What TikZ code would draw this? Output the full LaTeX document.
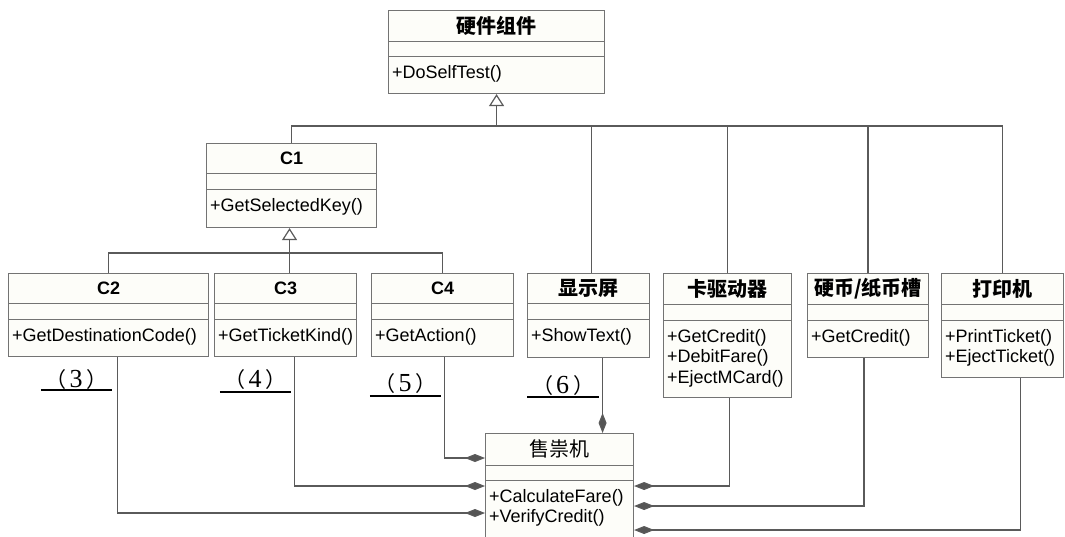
\documentclass[tikz,border=0pt]{standalone}
\usepackage{fontspec}
\setmainfont{Liberation Serif}
\setsansfont{Liberation Sans}
\newfontfamily\cjk{Noto Sans CJK SC}
\usetikzlibrary{arrows.meta,calc}
\definecolor{linec}{RGB}{90,90,90}
\definecolor{boxc}{RGB}{115,115,115}
\definecolor{boxfill}{RGB}{253,253,249}
\definecolor{diamc}{RGB}{85,85,85}
\tikzset{
  cbox/.style={draw=boxc, fill=boxfill, line width=1.1pt, inner sep=0pt, anchor=north west},
  sepline/.style={draw=boxc, line width=1pt},
  ttl/.style={font=\fontsize{18}{20}\selectfont\sffamily\bfseries, inner sep=0pt},
  cjkttl/.style={font=\fontsize{20}{22}\selectfont\cjk\bfseries, inner sep=0pt},
  cjkreg/.style={font=\fontsize{20}{22}\selectfont\cjk, inner sep=0pt},
  meth/.style={font=\fontsize{18}{20.5}\selectfont\sffamily, align=left, anchor=north west, inner sep=0pt},
  conn/.style={draw=linec, line width=1.2pt},
  gen/.style={conn, -{Triangle[open, length=12pt, width=15pt, fill=white]}},
  comp/.style={conn, -{Diamond[length=20pt, width=8pt, fill=diamc]}},
  blank/.style={font=\fontsize{26}{28}\selectfont, inner sep=0pt, anchor=base, minimum width=71pt},
  uline/.style={draw=black, line width=1.8pt},
}
% name, x, y, w, h, sep1, sep2, title style, title
\newcommand\umlcls[9]{%
  \node[cbox, minimum width=#4pt, minimum height=#5pt] (#1) at (#2,#3) {};
  \draw[sepline] ([yshift=-#6pt]#1.north west) -- ([yshift=-#6pt]#1.north east);
  \draw[sepline] ([yshift=-#7pt]#1.north west) -- ([yshift=-#7pt]#1.north east);
  \node[#8] (#1-t) at ([yshift=-0.5*#6pt]#1.north) {#9};
}
% name, offset of method top from box top, methods
\newcommand\umlmeth[3]{%
  \node[meth] (#1-m) at ([xshift=4pt,yshift=-#2pt]#1.north west) {#3};
}
% name, x, base y, number, underline distance below base
\newcommand\blanklbl[5]{%
  \node[blank] (#1) at (#2,#3) {{\cjk\fontsize{21}{23}\selectfont （}\hspace{3pt}#4\hspace{4pt}{\cjk\fontsize{21}{23}\selectfont ）}};
  \draw[uline] ([yshift=-#5pt]#1.base west) -- ([yshift=-#5pt]#1.base east);
}
\begin{document}
\begin{tikzpicture}[x=1pt,y=-1pt]
\useasboundingbox (0,0) rectangle (1065,536);
\fill[white] (0,0) rectangle (1065,536);

\umlcls{hw}{388}{10}{216}{83}{31}{46}{cjkttl}{硬件组件}
\umlmeth{hw}{55}{+DoSelfTest()}
\umlcls{c1}{206}{143}{170}{84}{30}{46}{ttl}{C1}
\umlmeth{c1}{55}{+GetSelectedKey()}
\umlcls{c2}{8}{273}{200}{83}{30}{46}{ttl}{C2}
\umlmeth{c2}{55}{+GetDestinationCode()}
\umlcls{c3}{214}{273}{142}{83}{30}{46}{ttl}{C3}
\umlmeth{c3}{55}{+GetTicketKind()}
\umlcls{c4}{371}{273}{142}{83}{30}{46}{ttl}{C4}
\umlmeth{c4}{55}{+GetAction()}
\umlcls{disp}{527}{273}{122}{84}{30}{46}{cjkttl}{显示屏}
\umlmeth{disp}{55}{+ShowText()}
\umlcls{card}{663}{273}{128}{124}{31}{47}{cjkttl}{卡驱动器}
\umlmeth{card}{56}{+GetCredit()\\+DebitFare()\\+EjectMCard()}
\umlcls{coin}{807}{273}{121}{84}{31}{47}{cjkttl}{硬币/纸币槽}
\umlmeth{coin}{56}{+GetCredit()}
\umlcls{prn}{941}{273}{122}{104}{31}{47}{cjkttl}{打印机}
\umlmeth{prn}{56}{+PrintTicket()\\+EjectTicket()}
\umlcls{tvm}{485}{433}{148}{120}{32}{47}{cjkreg}{售祟机}
\umlmeth{tvm}{56}{+CalculateFare()\\+VerifyCredit()}

% generalization to 硬件组件
\coordinate (bus1) at (0,126);
\draw[conn] (c1.north) |- (prn.north |- bus1) -- (prn.north);
\draw[conn] ([xshift=3pt]disp.north) -- ([xshift=3pt]disp.north |- bus1);
\draw[conn] (card.north) -- (card.north |- bus1);
\draw[conn] (coin.north) -- (coin.north |- bus1);
\draw[gen] (hw.south |- bus1) -- (hw.south);

% generalization to C1
\coordinate (bus2) at (0,253);
\draw[conn] (c2.north) |- (c4.north |- bus2) -- (c4.north);
\draw[gen] ([xshift=-2pt]c1.south |- c3.north) -- ([xshift=-2pt]c1.south);

% composition into 售票机
\coordinate (r1) at (0,458);
\coordinate (r2) at (0,486);
\coordinate (r3) at (0,513);
\coordinate (r4) at (0,506);
\coordinate (r5) at (0,530);
\draw[comp] ([xshift=9pt]c2.south) |- (tvm.west |- r3);
\draw[comp] ([xshift=9pt]c3.south) |- (tvm.west |- r2);
\draw[comp] ([xshift=2pt]c4.south) |- (tvm.west |- r1);
\draw[comp] ([xshift=14pt]disp.south) -- ([xshift=14pt]disp.south |- tvm.north);
\draw[comp] ([xshift=2pt]card.south) |- (tvm.east |- r2);
\draw[comp] ([xshift=-4pt]coin.south) |- (tvm.east |- r4);
\draw[comp] ([xshift=18pt]prn.south) |- (tvm.east |- r5);

% blanks
\blanklbl{b3}{76.5}{387}{3}{3}
\blanklbl{b4}{255.5}{387}{4}{5}
\blanklbl{b5}{405.5}{391}{5}{5}
\blanklbl{b6}{563}{393}{6}{4}
\end{tikzpicture}
\end{document}
